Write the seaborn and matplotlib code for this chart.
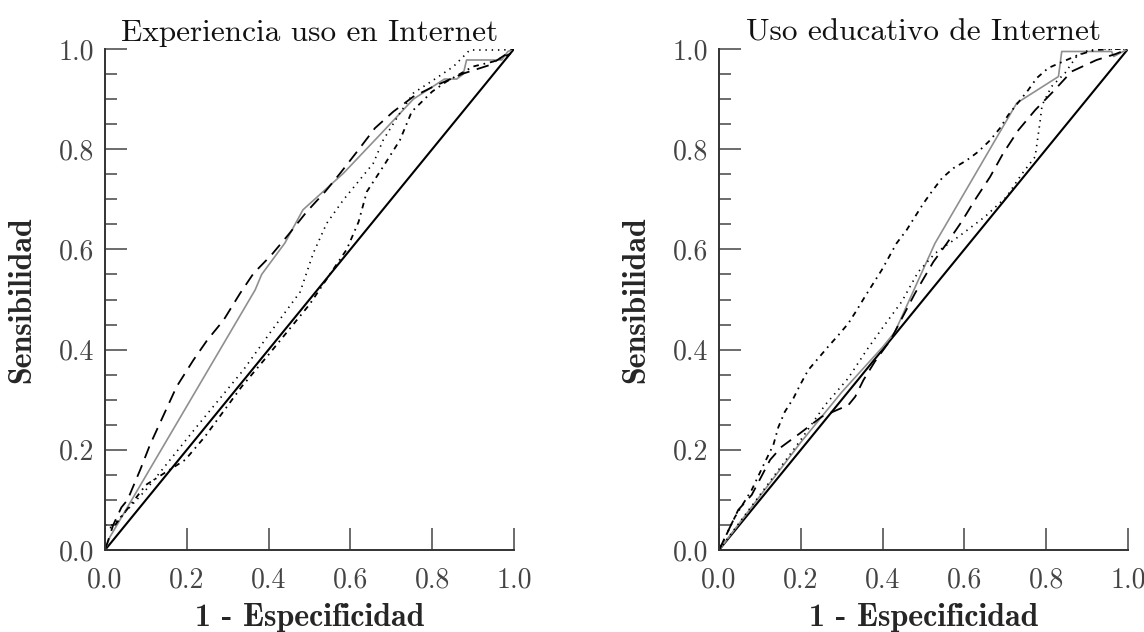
import numpy as np
import pandas as pd
import matplotlib
matplotlib.use('Agg')
import matplotlib.pyplot as plt
from matplotlib.ticker import MultipleLocator
import seaborn as sns

# ---- Experiencia uso en Internet (left panel) ----
exp_dashed_x = [0, 0.02, 0.04, 0.055, 0.086, 0.11, 0.175, 0.216, 0.25, 0.29, 0.33, 0.363, 0.407,
                0.448, 0.493, 0.538, 0.575, 0.619, 0.66, 0.705, 0.754, 0.803, 0.876, 0.941, 1.0]
exp_dashed_y = [0, 0.05, 0.085, 0.1, 0.16, 0.21, 0.326, 0.379, 0.419, 0.459, 0.512, 0.552, 0.589,
                0.629, 0.675, 0.715, 0.752, 0.798, 0.842, 0.875, 0.905, 0.925, 0.951, 0.968, 1.0]
exp_gray_x = [0, 0.012, 0.367, 0.383, 0.44, 0.484, 0.583, 0.676, 0.754, 0.83, 0.86, 0.876, 0.884,
              0.97, 0.985, 1.0]
exp_gray_y = [0, 0.026, 0.519, 0.55, 0.613, 0.679, 0.752, 0.832, 0.9, 0.94, 0.94, 0.95, 0.978,
              0.978, 0.995, 1.0]
exp_dotted_x = [0, 0, 0.02, 0.1, 0.224, 0.338, 0.403, 0.477, 0.509, 0.542, 0.583, 0.623, 0.656,
                0.68, 0.721, 0.754, 0.803, 0.852, 0.892, 0.973, 1.0]
exp_dotted_y = [0, 0.05, 0.05, 0.12, 0.246, 0.359, 0.433, 0.515, 0.592, 0.652, 0.699, 0.739, 0.772,
                0.818, 0.872, 0.912, 0.938, 0.965, 0.998, 0.998, 1.0]
exp_dashdot_x = [0, 0, 0.02, 0.1, 0.196, 0.244, 0.289, 0.334, 0.4, 0.5, 0.591, 0.62, 0.64, 0.68,
                 0.721, 0.75, 0.8, 0.835, 0.9, 0.95, 0.99, 1.0]
exp_dashdot_y = [0, 0.045, 0.045, 0.13, 0.18, 0.226, 0.276, 0.326, 0.39, 0.49, 0.6, 0.655, 0.715,
                 0.765, 0.818, 0.875, 0.915, 0.935, 0.965, 0.975, 0.99, 1.0]

# ---- Uso educativo de Internet (right panel) ----
edu_dashed_x = [0, 0.047, 0.08, 0.125, 0.153, 0.198, 0.251, 0.29, 0.316, 0.333, 0.353, 0.381, 0.42,
                0.479, 0.524, 0.557, 0.593, 0.626, 0.663, 0.695, 0.732, 0.773, 0.817, 0.862, 0.923,
                0.97, 1.0]
edu_dashed_y = [0, 0.08, 0.11, 0.18, 0.206, 0.233, 0.266, 0.28, 0.289, 0.306, 0.339, 0.376, 0.42,
                0.512, 0.575, 0.612, 0.655, 0.699, 0.745, 0.792, 0.838, 0.878, 0.915, 0.955, 0.978,
                0.99, 1.0]
edu_gray_x = [0, 0.2, 0.3, 0.4, 0.43, 0.528, 0.728, 0.83, 0.838, 0.96, 0.965, 1.0]
edu_gray_y = [0, 0.215, 0.315, 0.405, 0.435, 0.612, 0.892, 0.945, 0.995, 0.995, 0.985, 1.0]
edu_dotted_x = [0, 0.1, 0.2, 0.259, 0.316, 0.361, 0.402, 0.447, 0.487, 0.528, 0.585, 0.65, 0.703,
                0.74, 0.773, 0.785, 0.79, 0.813, 0.846, 0.875, 0.91, 1.0]
edu_dotted_y = [0, 0.11, 0.22, 0.289, 0.343, 0.399, 0.446, 0.496, 0.555, 0.592, 0.625, 0.665, 0.705,
                0.75, 0.785, 0.855, 0.888, 0.925, 0.952, 0.986, 1.0, 1.0]
edu_dashdot_x = [0, 0.039, 0.08, 0.112, 0.133, 0.145, 0.161, 0.182, 0.198, 0.218, 0.243, 0.267,
                 0.292, 0.316, 0.337, 0.357, 0.398, 0.434, 0.459, 0.479, 0.5, 0.52, 0.545, 0.573,
                 0.606, 0.634, 0.663, 0.687, 0.707, 0.756, 0.777, 0.805, 0.878, 0.919, 0.97, 1.0]
edu_dashdot_y = [0, 0.066, 0.12, 0.175, 0.21, 0.245, 0.276, 0.303, 0.329, 0.359, 0.383, 0.406,
                 0.429, 0.452, 0.479, 0.506, 0.559, 0.612, 0.639, 0.665, 0.692, 0.715, 0.742, 0.762,
                 0.778, 0.795, 0.818, 0.842, 0.868, 0.918, 0.942, 0.962, 0.988, 0.998, 1.0, 1.0]

ref_x = [0, 1]
ref_y = [0, 1]

titles = ['Experiencia uso en Internet', 'Uso educativo de Internet']
tick_vals = [0.0, 0.2, 0.4, 0.6, 0.8, 1.0]

sns.set_style('ticks')
plt.rcParams['font.family'] = ['cmr10', 'DejaVu Serif']
plt.rcParams['axes.unicode_minus'] = False
plt.rcParams['lines.scale_dashes'] = False

fig = plt.figure(figsize=(11.44, 6.32), dpi=100)
ax1 = fig.add_axes([0.0918, 0.1297, 0.3575, 0.7928])
ax2 = fig.add_axes([0.6285, 0.1297, 0.3575, 0.7928])

panels = [
    (ax1, exp_dashed_x, exp_dashed_y, exp_gray_x, exp_gray_y, exp_dotted_x, exp_dotted_y,
     exp_dashdot_x, exp_dashdot_y),
    (ax2, edu_dashed_x, edu_dashed_y, edu_gray_x, edu_gray_y, edu_dotted_x, edu_dotted_y,
     edu_dashdot_x, edu_dashdot_y),
]

for i, (ax, dx, dy, gx, gy, ox, oy, ddx, ddy) in enumerate(panels):
    sns.lineplot(x=ref_x, y=ref_y, ax=ax, color='black', linewidth=1.5, sort=False, estimator=None)
    sns.lineplot(x=gx, y=gy, ax=ax, color='#8f8f8f', linewidth=1.2, sort=False, estimator=None)
    sns.lineplot(x=dx, y=dy, ax=ax, color='black', linewidth=1.3, sort=False, estimator=None,
                 linestyle=(0, (9, 5.5)))
    sns.lineplot(x=ox, y=oy, ax=ax, color='black', linewidth=1.2, sort=False, estimator=None,
                 linestyle=(0, (1, 3.5)))
    sns.lineplot(x=ddx, y=ddy, ax=ax, color='black', linewidth=1.3, sort=False, estimator=None,
                 linestyle=(0, (4, 3.5, 1.2, 3.5)))

    ax.set_xlim(0, 1)
    ax.set_ylim(0, 1)
    ax.set_xticks(tick_vals)
    ax.set_yticks(tick_vals)
    ax.set_xticklabels([f'{v:.1f}' for v in tick_vals])
    ax.set_yticklabels([f'{v:.1f}' for v in tick_vals])
    ax.yaxis.set_minor_locator(MultipleLocator(0.05))
    ax.tick_params(axis='both', which='major', direction='in', length=16, width=1.1,
                   color='#444444', labelsize=20, labelcolor='#444444', pad=8)
    ax.tick_params(axis='x', which='major', pad=12)
    ax.tick_params(axis='y', which='minor', direction='in', length=8.5, width=1.1,
                   color='#444444')
    sns.despine(ax=ax)
    for side in ['left', 'bottom']:
        ax.spines[side].set_color('#333333')
        ax.spines[side].set_linewidth(1.4)

    ax.set_title(titles[i], fontsize=22.5, pad=6, color='#111111')
    ax.set_xlabel('1 - Especificidad', fontsize=23, family=['cmb10', 'DejaVu Serif'], labelpad=7)
    ax.set_ylabel('Sensibilidad', fontsize=23, family=['cmb10', 'DejaVu Serif'], labelpad=16)

fig.savefig('out.png', dpi=100)
